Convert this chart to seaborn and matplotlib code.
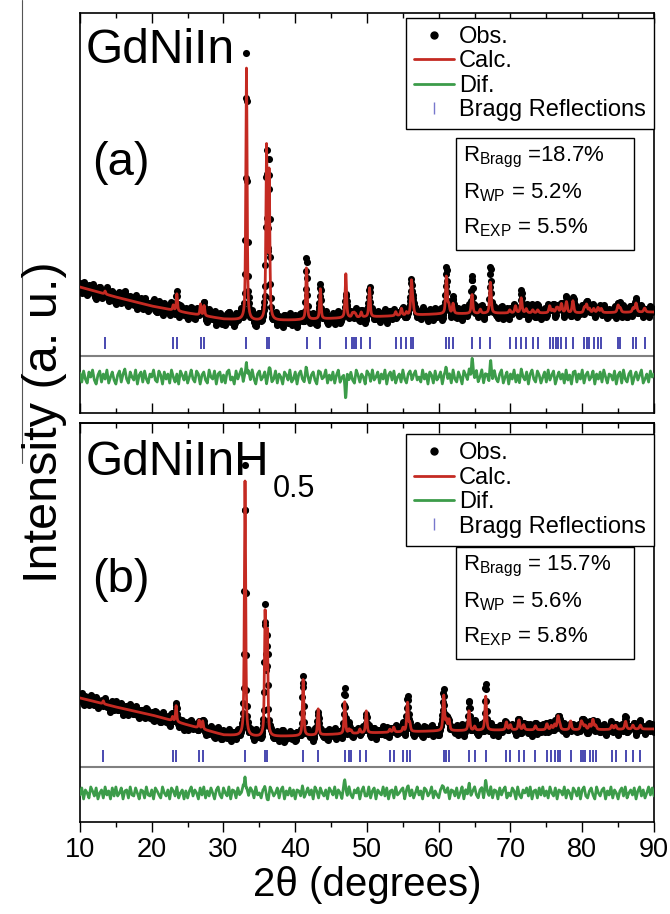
import numpy as np
import pandas as pd
import seaborn as sns
import matplotlib.pyplot as plt
from matplotlib.lines import Line2D
from matplotlib.patches import Rectangle
from matplotlib.ticker import MultipleLocator

sns.set_theme(style="ticks", rc={"axes.edgecolor": "black", "xtick.color": "black",
                                 "text.color": "black", "axes.labelcolor": "black"})
plt.rcParams['font.family'] = ['Liberation Sans', 'DejaVu Sans']
plt.rcParams['mathtext.fontset'] = 'custom'
plt.rcParams['mathtext.rm'] = 'Liberation Sans'
plt.rcParams['mathtext.it'] = 'Liberation Sans:italic'

# ---- data (intensity in arbitrary units) ----
bg_pos = [10, 15, 20, 25, 30, 35, 40, 50, 60, 70, 80, 90]

# (a) GdNiIn
bg_a = [126, 116, 107, 100, 94, 92, 93, 96, 99, 100, 100, 101]
bragg_a = [13.5, 23.0, 23.5, 26.8, 27.3, 33.2, 36.0, 36.36, 41.57, 43.5,
           47.05, 47.97, 48.2, 48.4, 49.2, 50.35, 54.0, 54.8, 55.5, 56.2,
           56.4, 61.07, 61.4, 62.0, 64.64, 65.8, 67.2, 69.9, 70.7, 71.5,
           72.2, 73.1, 73.8, 75.46, 75.9, 76.4, 76.6, 77.1, 77.8, 78.7,
           80.3, 80.6, 81.0, 81.6, 82.2, 82.65, 85.0, 85.3, 87.1, 87.5, 88.7]
calc_a = [3, 5, 17, 11, 10, 252, 170, 145, 53, 30,
          44, 4, 4, 3, 5, 29, 4, 7, 3, 33,
          10, 38, 8, 10, 19, 4, 31, 3, 7, 15,
          4, 3, 3, 7, 3, 4, 4, 9, 11, 12,
          5, 8, 4, 4, 5, 4, 7, 4, 4, 9, 4]
obs_a = [3, 5, 17, 11, 10, 271, 170, 150, 57, 32,
         28, 4, 4, 3, 5, 31, 4, 7, 3, 38,
         10, 43, 8, 10, 38, 4, 44, 3, 7, 17,
         4, 3, 3, 7, 3, 4, 4, 9, 11, 12,
         5, 8, 4, 4, 5, 4, 7, 4, 4, 9, 4]
noise_a = [4, -5, 6, -2, -6, 5, 0, 7, -3, -7, 2, 6, -5, 3, -2, 7, -6, 0, 5, -3,
           -7, 2, 6, -5, 3, 8, -2, -6, 5, 0, -3, 7, -7, 2, 5, -5, 6, -2, -6, 3,
           0, 7, -3, -5, 6, 2, -7, 5, -2, 3, -6, 7, 0, -5, 3, -7, 6, 2, -3, 5,
           -6, 0, 7, -2, -5, 6, 3, -7, 2, 5, -3, -6, 7, 0, -2, 6, -7, 3, 5, -5,
           2, -6, 5, 7, -3, 0, -7, 6, -2, 3, 8, -5, 2, -6, 5, -3, 7, -2, -7, 3,
           6, -3, 0, 5, -7, 2, 7, -5, -2, 6, -6, 3, 0, -7, 5, 2, -3, 7, -5, -2,
           5, -7, 3, 6, -2, -5, 7, 0, -6, 2, 5, -3, -7, 6, 3, -2, 0, 7, -6, 2,
           -3, 5, -6, 2, 7, -5, 0, 3, -7, 6, -2, 5, -3, -6, 7, 2, -5, 3, 0, -7,
           6, 2, -5, 7, -3, 0, 5, -6, 3, -2, 7, -7, 2, 5, -3, 6, -6, 0, 3, -5,
           7, -2, -6, 3, 5, -7, 2, 6, -3, 0, -5, 7, -2, 3, -7, 5, 2, -6, 6, -3,
           0, 5, -7, 2, 6, -3, 3, -6, 7, -2, -5, 5, 0, -7, 6, 2, -3, 7, -5, 3,
           -2, 6, -5, 0, 7, -6, 3, 2, -7, 5, -3, 6, -2, -5, 3, 7, -6, 0, 5, -7,
           3, -2, 7, -5, 2, -6, 6, 0, -3, 5, -7, 3, 7, -2, -5, 6, 2, -6, 0, 5,
           -5, 7, -3, 2, 6, -7, 0, 5, -2, 3, -6, 7, -3, 2, -7, 5, 6, -5, 3, -2,
           7, -6, 2, 5, -3, 0, 6, -7, 3, -2, 5, -5, 7, 0, -6, 3, 2, -3, 6, -7,
           2, 5, -6, 7, -2, -5, 3, 6, -7, 0, 5, -3, 2, 7, -6, -2, 3, -5, 6, 0,
           3]

# (b) GdNiInH0.5
bg_b = [124, 115, 107, 97, 87, 85, 86, 89, 91, 92, 92, 93]
bragg_b = [13.25, 22.9, 23.4, 26.6, 27.1, 33.0, 35.8, 36.1, 41.1, 43.2,
           46.9, 47.5, 47.8, 49.0, 49.9, 53.18, 53.73, 55.03, 55.64, 55.96,
           60.7, 61.07, 61.43, 64.22, 65.01, 66.55, 69.43, 69.99, 71.18, 71.84,
           73.47, 75.08, 75.7, 76.16, 76.62, 76.85, 78.38, 79.87, 80.1, 80.43,
           81.03, 81.49, 81.87, 84.14, 84.65, 86.04, 87.06, 88.09]
calc_b = [3, 4, 16, 8, 8, 255, 120, 100, 56, 26,
          32, 4, 3, 4, 22, 3, 5, 4, 29, 8,
          35, 10, 11, 20, 4, 34, 8, 5, 10, 5,
          4, 6, 4, 5, 13, 5, 9, 8, 4, 4,
          5, 10, 4, 4, 4, 8, 4, 4]
obs_b = [3, 4, 16, 8, 8, 277, 122, 97, 58, 26,
         42, 4, 3, 4, 22, 3, 5, 4, 31, 8,
         41, 10, 11, 25, 4, 45, 8, 5, 10, 5,
         4, 6, 4, 5, 13, 5, 9, 8, 4, 4,
         5, 10, 4, 4, 4, 8, 4, 4]
noise_b = [-2, 5, -6, 3, 0, -5, 6, 2, -3, 5, -6, 0, 3, -5, 6, -2, 2, -6, 5, -3,
           6, -3, 0, 5, -6, 2, 3, -5, 6, -2, -3, 5, 0, -6, 3, 2, -5, 6, -2, -3,
           3, -6, 5, 2, -2, -5, 6, 0, -3, 3, -6, 5, 2, -3, 6, -5, 0, 3, -6, 2,
           -5, 2, 6, -3, 3, 0, -6, 5, -2, 6, -5, 2, -3, 5, 0, -6, 3, 6, -2, -5,
           5, 0, -3, 6, -6, 3, 2, -5, 5, -2, 0, 6, -6, 3, -3, 5, 2, -5, 6, -2,
           0, -5, 3, 5, -2, -6, 6, 2, -3, 0, 5, -5, 3, 6, -6, 2, -2, 5, -3, 3,
           -6, 3, 2, -3, 6, -5, 0, 5, -2, 3, -6, 6, 2, -5, 5, 0, -3, 3, -6, 5,
           2, -2, 6, -5, 3, 0, -6, 5, 2, -3, 6, -2, -5, 3, 0, 5, -6, 2, 6, -3,
           -3, 6, -5, 2, 5, -6, 3, 0, -2, 6, -3, 5, -6, 2, 3, -5, 6, -2, 0, 3,
           5, -6, 2, 6, -3, 3, -5, 0, 6, -2, 2, -6, 5, 3, -3, 0, 6, -5, 2, -2,
           -5, 3, 6, -2, 0, 5, -6, 3, 2, -3, 5, -5, 0, 6, -6, 3, -2, 5, -3, 2,
           6, -2, -5, 3, 5, -6, 2, 0, -3, 6, -5, 3, 2, -6, 5, -2, 3, 6, -5, 0,
           -3, 5, 2, -6, 6, -2, -5, 3, 0, 5, -3, 6, -6, 2, 3, -5, 5, -2, 6, -3,
           2, -5, 6, 0, -3, 5, -6, 3, 2, -2, 6, -5, 3, 0, -6, 5, 2, -3, 5, -6,
           3, 6, -3, -5, 2, 5, -2, -6, 6, 0, -3, 3, 5, -6, 2, -2, 6, -5, 3, 0,
           -6, 2, 5, -3, 6, -5, 0, 3, -2, 5, -6, 2, 6, -3, 3, -5, 0, 6, -2, 5,
           -3]

r_a = [r"R$_{\mathrm{Bragg}}$ =18.7%", r"R$_{\mathrm{WP}}$ = 5.2%", r"R$_{\mathrm{EXP}}$ = 5.5%"]
r_b = [r"R$_{\mathrm{Bragg}}$ = 15.7%", r"R$_{\mathrm{WP}}$ = 5.6%", r"R$_{\mathrm{EXP}}$ = 5.8%"]

RED = '#c42a22'
GREEN = '#3c9c4a'
BLUE = '#3a3aaa'

tth = np.arange(10, 90.0001, 0.05)
noise_x = np.linspace(10, 90, len(noise_a))


def profile(pos, heights):
    out = np.zeros_like(tth)
    for p, h in zip(pos, heights):
        d = (tth - p) / (0.16 + 0.0015 * p)
        out += h * (0.6 / (1 + 4 * d * d) + 0.4 * np.exp(-4 * np.log(2) * d * d))
    return out


def build(bg, pos, calc_h, obs_h, noise):
    back = np.interp(tth, bg_pos, bg)
    calc = back + profile(pos, calc_h)
    obs = back + profile(pos, obs_h) + np.interp(tth, noise_x, noise)
    return pd.DataFrame({'tth': tth, 'obs': obs, 'calc': calc, 'dif': obs - calc})


fig = plt.figure(figsize=(6.7, 9.14), dpi=100)
ax_a = fig.add_axes([0.1194, 0.5481, 0.8567, 0.4376])
ax_b = fig.add_axes([0.1194, 0.1007, 0.8567, 0.4365])

panels = [
    (ax_a, build(bg_a, bragg_a, calc_a, obs_a, noise_a), bragg_a, 70, 57, 36, 400, r_a, 0.988),
    (ax_b, build(bg_b, bragg_b, calc_b, obs_b, noise_b), bragg_b, 66, 55, 29, 399, r_b, 0.972),
]

for ax, df, bragg, tick_y, sep_y, dif_y, ytop, rtxt, leg_top in panels:
    sns.scatterplot(data=df, x='tth', y='obs', ax=ax, color='black', s=26,
                    linewidth=0, zorder=2)
    sns.lineplot(data=df, x='tth', y='calc', ax=ax, color=RED, lw=2,
                 estimator=None, sort=False, zorder=3)
    sns.lineplot(x=df['tth'], y=df['dif'] + dif_y, ax=ax, color=GREEN, lw=2,
                 estimator=None, sort=False, zorder=3)
    sns.scatterplot(x=bragg, y=[tick_y] * len(bragg), ax=ax, marker='|', s=80,
                    color=BLUE, linewidth=1.3, zorder=3)
    ax.axhline(sep_y, color='#808080', lw=1.5, zorder=1)

    ax.set_xlim(10, 90)
    ax.set_ylim(0, ytop)
    ax.set_yticks([])
    ax.set_xlabel('')
    ax.set_ylabel('')
    ax.xaxis.set_major_locator(MultipleLocator(10))
    ax.xaxis.set_minor_locator(MultipleLocator(5))
    for sp in ax.spines.values():
        sp.set_linewidth(1.2)

    handles = [
        Line2D([], [], marker='o', ls='none', color='black', markersize=5, label='Obs.'),
        Line2D([], [], color=RED, lw=2, label='Calc.'),
        Line2D([], [], color=GREEN, lw=2, label='Dif.'),
        Line2D([], [], marker='|', ls='none', color='#7777cc', markersize=8,
               markeredgewidth=1, label='Bragg Reflections'),
    ]
    leg = ax.legend(handles=handles, loc='upper right', bbox_to_anchor=(1.0, leg_top),
                    borderaxespad=0, frameon=True, fancybox=False, edgecolor='black',
                    framealpha=1, fontsize=17, handlelength=1.7, handletextpad=0.2,
                    labelspacing=0.1, borderpad=0.35)
    leg.get_frame().set_linewidth(1)

    ax.add_patch(Rectangle((0.655, 0.408), 0.31, 0.28, transform=ax.transAxes,
                           facecolor='white', edgecolor='black', lw=1, zorder=5))
    for i, t in enumerate(rtxt):
        ax.text(0.668, 0.64 - i * 0.088, t, transform=ax.transAxes, fontsize=16,
                va='center', ha='left', zorder=6)

# panel labels
ax_a.text(0.009, 0.875, 'GdNiIn', transform=ax_a.transAxes, fontsize=34.5, va='baseline')
ax_a.text(0.021, 0.595, '(a)', transform=ax_a.transAxes, fontsize=34, va='baseline')
name_b = ax_b.text(0.009, 0.87, 'GdNiInH', transform=ax_b.transAxes, fontsize=34.5,
                   va='baseline')
ax_b.annotate('0.5', xy=(1, 0), xycoords=name_b, xytext=(3, -14),
              textcoords='offset points', fontsize=22, va='bottom', ha='left')
ax_b.text(0.021, 0.576, '(b)', transform=ax_b.transAxes, fontsize=34, va='baseline')

ax_a.tick_params(axis='x', which='both', direction='in', top=True, bottom=True,
                 labelbottom=False, width=1)
ax_a.tick_params(axis='x', which='major', length=7)
ax_a.tick_params(axis='x', which='minor', length=3.5)

ax_b.tick_params(axis='x', which='both', direction='out', top=False, bottom=True,
                 labelsize=19.5, width=1)
ax_b.tick_params(axis='x', which='major', length=7, pad=4)
ax_b.tick_params(axis='x', which='minor', length=3.5)
sec = ax_b.secondary_xaxis('top')
sec.xaxis.set_major_locator(MultipleLocator(10))
sec.xaxis.set_minor_locator(MultipleLocator(5))
sec.tick_params(axis='x', which='both', direction='in', labeltop=False, width=1)
sec.tick_params(axis='x', which='major', length=7)
sec.tick_params(axis='x', which='minor', length=3.5)
sec.spines['top'].set_linewidth(1.2)

ax_b.set_xlabel('2θ (degrees)', fontsize=29, labelpad=2)
fig.text(0.067, 0.538, 'Intensity (a. u.)', rotation=90, fontsize=35,
         ha='center', va='center')
fig.add_artist(Line2D([22 / 670, 22 / 670], [1.0, 1 - 463 / 914],
                      transform=fig.transFigure, color='#555555', lw=0.8))

fig.savefig('out.png', dpi=100)
